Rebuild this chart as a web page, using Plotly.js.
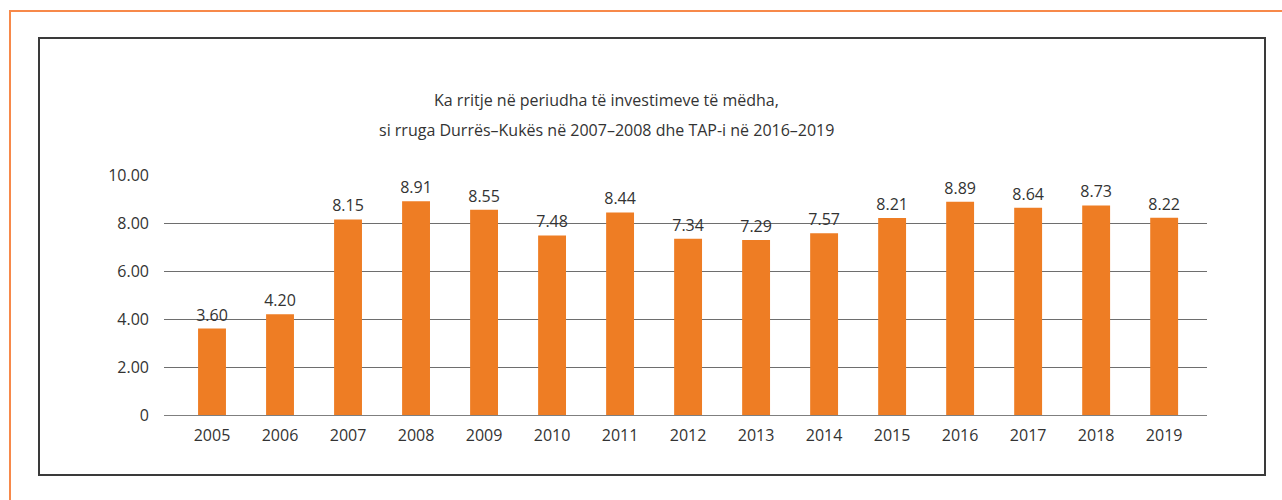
<!DOCTYPE html>
<html>
<head>
<meta charset="utf-8">
<script src="https://cdn.plot.ly/plotly-3.0.1.min.js"></script>
<style>
  html, body { margin: 0; padding: 0; background: #fff; }
  #wrap { position: relative; width: 1282px; height: 500px; overflow: hidden; }
  #chart { position: absolute; left: 0; top: 0; width: 1282px; height: 500px; }
  #orange { position: absolute; left: 9px; top: 10px; width: 1290px; height: 600px;
            border-left: 2px solid #f7894a; border-top: 2px solid #f7894a; pointer-events: none; }
  #box { position: absolute; left: 38px; top: 37px; width: 1224px; height: 435px;
         border: 2px solid #3a3a3a; pointer-events: none; }
</style>
</head>
<body>
<div id="wrap">
  <div id="chart"></div>
  <div id="orange"></div>
  <div id="box"></div>
</div>
<script>
const years = ['2005','2006','2007','2008','2009','2010','2011','2012','2013','2014','2015','2016','2017','2018','2019'];
const values = [3.60, 4.20, 8.15, 8.91, 8.55, 7.48, 8.44, 7.34, 7.29, 7.57, 8.21, 8.89, 8.64, 8.73, 8.22];
const yTickVals = [0, 2, 4, 6, 8, 10];
const yTickText = ['0', '2.00', '4.00', '6.00', '8.00', '10.00'];
const titleLine1 = 'Ka rritje në periudha të investimeve të mëdha,';
const titleLine2 = 'si rruga Durrës–Kukës në 2007–2008 dhe TAP-i në 2016–2019';

const FONT = '"Open Sans", "Noto Sans", sans-serif';

const trace = {
  type: 'bar',
  x: years,
  y: values,
  marker: { color: '#ee7d24' },
  width: 0.41,
  text: values.map(v => v.toFixed(2)),
  textposition: 'outside',
  constraintext: 'none',
  textfont: { family: FONT, size: 16, color: '#333333' },
  cliponaxis: false,
  hoverinfo: 'x+y'
};

const layout = {
  width: 1282,
  height: 500,
  margin: { l: 164, r: 75, t: 175, b: 85 },
  paper_bgcolor: '#ffffff',
  plot_bgcolor: '#ffffff',
  showlegend: false,
  font: { family: FONT, color: '#333333', size: 16 },
  xaxis: {
    type: 'category',
    range: [-0.706, 14.63],
    showline: true,
    linecolor: '#7f7f7f',
    linewidth: 1,
    showgrid: false,
    zeroline: false,
    ticks: '',
    ticklabelstandoff: 6,
    tickfont: { family: FONT, size: 16, color: '#333333' },
    fixedrange: true
  },
  yaxis: {
    range: [0, 10],
    tickmode: 'array',
    tickvals: yTickVals,
    ticktext: yTickText,
    showgrid: true,
    gridcolor: '#6e6e6e',
    gridwidth: 1,
    zeroline: false,
    showline: false,
    ticks: '',
    ticklabelstandoff: 14,
    tickfont: { family: FONT, size: 16, color: '#333333' },
    fixedrange: true
  },
  annotations: [
    { text: titleLine1, xref: 'paper', yref: 'paper', x: 0.4245, y: 1.3125,
      xanchor: 'center', yanchor: 'middle', showarrow: false,
      font: { family: FONT, size: 16, color: '#333333' } },
    { text: titleLine2, xref: 'paper', yref: 'paper', x: 0.4245, y: 1.1875,
      xanchor: 'center', yanchor: 'middle', showarrow: false,
      font: { family: FONT, size: 16, color: '#333333' } }
  ]
};

Plotly.newPlot('chart', [trace], layout, { displayModeBar: false, staticPlot: true });
</script>
</body>
</html>
